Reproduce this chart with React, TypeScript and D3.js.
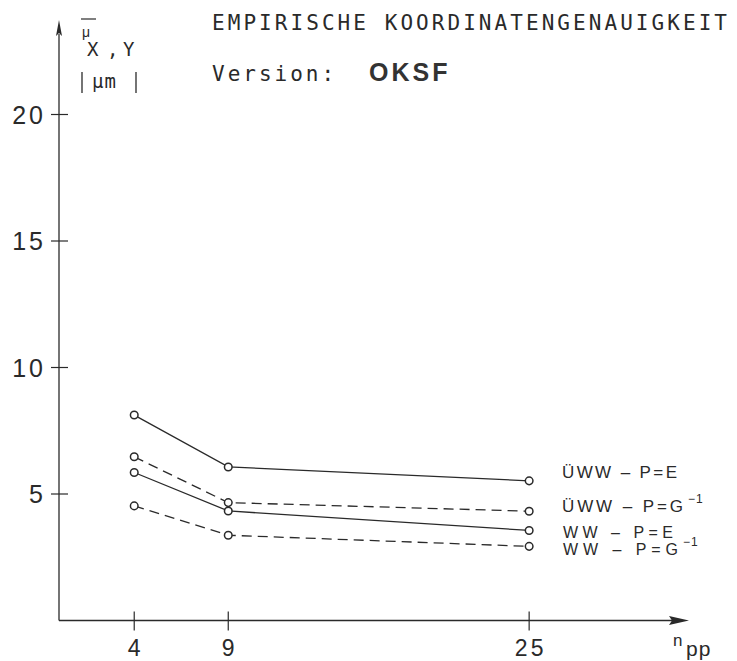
import React from "react";
import * as d3 from "d3";

const nValues = [4, 9, 25];
const xTickLabels = ["4", "9", "25"];
const yTicks = [5, 10, 15, 20];
const yTickLabels = ["5", "10", "15", "20"];

const uwwPE = [8.12, 6.07, 5.52];
const uwwPG = [6.47, 4.66, 4.32];
const wwPE = [5.85, 4.33, 3.56];
const wwPG = [4.53, 3.37, 2.93];

const seriesNames = ["ÜWW – P=E", "ÜWW – P=G", "WW – P=E", "WW – P=G"];
const seriesValues = [uwwPE, uwwPG, wwPE, wwPG];
const seriesDashed = [false, true, false, true];
const seriesSup = ["", "−1", "", "−1"];

const title = "EMPIRISCHE KOORDINATENGENAUIGKEIT";
const versionLabel = "Version:";
const versionName = "OKSF";

export default function App() {
  const W = 737, H = 661;
  const x = d3.scaleLinear().domain([0, 33.5]).range([59, 689]);
  const y = d3.scaleLinear().domain([0, 20]).range([620.5, 114.5]);
  const line = d3
    .line<[number, number]>()
    .x((d) => x(d[0]))
    .y((d) => y(d[1]));
  const ink = "#2a2a2a";
  const sans = "'Liberation Sans', Arial, sans-serif";
  const mono = "'DejaVu Sans Mono', monospace";
  const labelY = [478, 512, 538, 555];
  const labelW = [115, 121, 110, 115];
  const labelX = [562, 562, 563, 563];
  const axisY = y(0);
  const axisX = x(0);

  return (
    <svg
      width={W}
      height={H}
      style={{ position: "absolute", left: 0, top: 0, background: "#fff" }}
    >
      <rect width={W} height={H} fill="#fff" />
      {/* axes */}
      <line x1={axisX} y1={axisY} x2={675} y2={axisY} stroke={ink} strokeWidth={1.3} />
      <path d={`M${689},${axisY} L${669},${axisY - 4.5} L${672},${axisY} L${669},${axisY + 4.5} Z`} fill={ink} />
      <line x1={axisX} y1={axisY} x2={axisX} y2={34} stroke={ink} strokeWidth={1.3} />
      <path d={`M${axisX},20 L${axisX - 3},36 L${axisX},33 L${axisX + 3},36 Z`} fill={ink} />
      {/* y ticks */}
      {yTicks.map((t, i) => (
        <g key={"yt" + t}>
          <line x1={axisX - 8} x2={axisX + 9} y1={y(t)} y2={y(t)} stroke={ink} strokeWidth={1.2} />
          <text
            x={axisX - 13}
            y={y(t) + 9}
            textAnchor="end"
            fontFamily={sans}
            fontSize={25}
            letterSpacing={3}
            fill={ink}
          >
            {yTickLabels[i]}
          </text>
        </g>
      ))}
      {/* x ticks */}
      {nValues.map((n, i) => (
        <g key={"xt" + n}>
          <line x1={x(n)} x2={x(n)} y1={axisY - 9} y2={axisY + 10} stroke={ink} strokeWidth={1.2} />
          <text
            x={x(n) + (n > 9 ? 1.5 : 0)}
            y={656}
            textAnchor="middle"
            fontFamily={sans}
            fontSize={23}
            letterSpacing={n > 9 ? 3 : 0}
            fill={ink}
          >
            {xTickLabels[i]}
          </text>
        </g>
      ))}
      {/* x axis label */}
      <text x={673} y={646} fontFamily={sans} fontSize={17} fill={ink}>n</text>
      <text x={686} y={656} fontFamily={sans} fontSize={21} letterSpacing={1} fill={ink}>pp</text>
      {/* y axis label */}
      <line x1={81} x2={96} y1={19} y2={19} stroke={ink} strokeWidth={1.2} />
      <text x={82} y={37} fontFamily={sans} fontSize={14} fill={ink}>μ</text>
      <text y={56} fontFamily={mono} fontSize={19} fill={ink}>
        <tspan x={87}>X</tspan>
        <tspan x={107}>,</tspan>
        <tspan x={123}>Y</tspan>
      </text>
      <line x1={82} x2={82} y1={72} y2={93} stroke={ink} strokeWidth={1.3} />
      <text x={92} y={88} fontFamily={mono} fontSize={19} fill={ink} letterSpacing={1}>μm</text>
      <line x1={136} x2={136} y1={72} y2={93} stroke={ink} strokeWidth={1.3} />
      {/* title */}
      <text
        x={212}
        y={30}
        fontFamily={mono}
        fontSize={21}
        fill={ink}
        textLength={515}
        lengthAdjust="spacing"
      >
        {title}
      </text>
      <text x={212} y={81} fontFamily={mono} fontSize={21} fill={ink} letterSpacing={3}>
        {versionLabel}
      </text>
      <text x={369} y={81} fontFamily={sans} fontWeight="bold" fontSize={25} fill="#333" letterSpacing={3}>
        {versionName}
      </text>
      {/* series lines */}
      {seriesValues.map((vals, si) => (
        <path
          key={"l" + si}
          d={line(vals.map((v, i) => [nValues[i], v] as [number, number])) || ""}
          fill="none"
          stroke={ink}
          strokeWidth={1.3}
          strokeDasharray={seriesDashed[si] ? "10,6" : undefined}
        />
      ))}
      {/* markers */}
      {seriesValues.map((vals, si) =>
        vals.map((v, i) => (
          <circle
            key={"c" + si + "_" + i}
            cx={x(nValues[i])}
            cy={y(v)}
            r={3.8}
            fill="#fff"
            stroke={ink}
            strokeWidth={1.5}
          />
        ))
      )}
      {/* series labels */}
      {seriesNames.map((name, si) => (
        <g key={"lab" + si}>
          <text
            x={labelX[si]}
            y={labelY[si]}
            fontFamily={sans}
            fontSize={si >= 2 ? 16 : 17}
            fill={ink}
            textLength={labelW[si]}
            lengthAdjust="spacing"
          >
            {name}
          </text>
          {seriesSup[si] && (
            <text
              x={labelX[si] + labelW[si] + 5}
              y={labelY[si] - 9}
              fontFamily={sans}
              fontSize={12}
              fill={ink}
              letterSpacing={1}
            >
              {seriesSup[si]}
            </text>
          )}
        </g>
      ))}
    </svg>
  );
}
